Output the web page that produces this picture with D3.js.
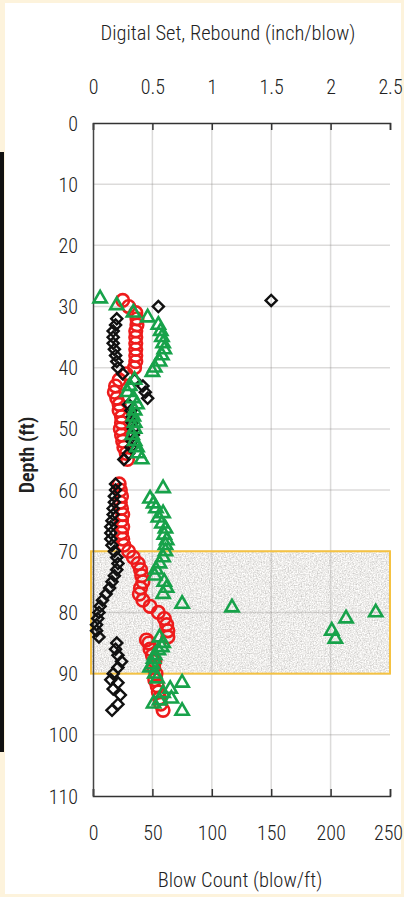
<!DOCTYPE html>
<html><head><meta charset="utf-8">
<script src="https://cdn.jsdelivr.net/npm/d3@7"></script>
<style>
html,body{margin:0;padding:0;background:#fdf3dc;}
svg{display:block;}
text{font-family:"Liberation Sans Narrow","Arial Narrow","Roboto Condensed","Open Sans",sans-serif;fill:#222;}
</style></head><body>
<svg id="chart" width="404" height="897"></svg>
<script>
// ---- data ----
const depthTicks = [0,10,20,30,40,50,60,70,80,90,100,110];
const blowTicks = [0,50,100,150,200,250];
const setTicks = [0,0.5,1,1.5,2,2.5];

// Digital Set (inch/blow) - black diamonds, top axis
const setDepth = [29,30,32,33,34,35,36,37,38,39,40,41,42,43,44,45,46,47,48,49,50,51,52,53,54,55,59,60,61,62,63,64,65,66,67,68,69,70,71,72,73,74,75,76,77,78,79,80,81,82,83,84,85,86,87,88,89,90,91,91.5,92.5,93.5,95,96];
const setValue = [1.5,0.55,0.2,0.19,0.17,0.17,0.17,0.18,0.19,0.20,0.21,0.25,0.35,0.42,0.44,0.46,0.30,0.32,0.33,0.33,0.34,0.34,0.33,0.32,0.30,0.26,0.19,0.19,0.18,0.18,0.17,0.17,0.16,0.15,0.15,0.15,0.16,0.18,0.20,0.21,0.20,0.18,0.16,0.14,0.11,0.08,0.06,0.05,0.04,0.03,0.03,0.05,0.20,0.19,0.21,0.24,0.21,0.17,0.15,0.21,0.17,0.23,0.21,0.16];

// Rebound (inch/blow) - red circles, top axis
const rebDepth = [29,30,31,32,33,34,35,36,37,38,39,40,41,42,43,44,45,46,47,48,49,50,51,52,53,54,55,59,60,61,62,63,64,65,66,67,68,69,70,71,72,73,74,75,76,77,78,79,80,81,82,83,84,84.5,85,86,87,88,89,90,91,92,93,94,95,96];
const rebValue = [0.25,0.30,0.36,0.37,0.37,0.36,0.36,0.36,0.36,0.36,0.36,0.35,0.28,0.22,0.19,0.18,0.20,0.22,0.22,0.24,0.24,0.23,0.24,0.25,0.26,0.28,0.29,0.22,0.23,0.24,0.23,0.24,0.25,0.24,0.25,0.24,0.25,0.26,0.30,0.34,0.38,0.40,0.41,0.42,0.40,0.39,0.42,0.48,0.55,0.60,0.62,0.63,0.63,0.45,0.47,0.48,0.50,0.52,0.51,0.53,0.52,0.54,0.55,0.56,0.57,0.59];

// Blow Count (blow/ft) - green triangles, bottom axis
const blowDepth = [28.7,29.8,31,31.8,33,34,35,36,37,38,39,40,40.7,42,43,44,45,46,47,48,49,50,51,52,53,54,55,59.7,61.4,62.2,63,63.8,64.5,65.5,66.3,67.3,68.2,69,70,71,72,73,74,75,76,77,78.6,79.2,80,81,83,84.3,84.1,85,85.7,86.2,87,87.6,88.5,89,90,90.8,91.5,92.5,93.2,94.1,94.4,94.9,96.1];
const blowValue = [6,20,34,46,55,57,58,59,60,58,56,52,50,35,31,29,34,37,35,34,35,35,33,35,37,38,41,59,48,51,53,59,55,58,61,60,62,61,61,59,56,53,52,60,62,59,75,117,238,213,201,204,56,59,58,55,52,51,50,48,52,54,75,65,59,66,56,51,75];

// highlighted zone (ft)
const zone = [70, 90];

// ---- drawing ----
const svg = d3.select("#chart");
const L = 93, R = 390, T = 123, B = 796;
const y = d3.scaleLinear().domain([0,110]).range([T,B]);
const xb = d3.scaleLinear().domain([0,250]).range([L,R]);
const xt = d3.scaleLinear().domain([0,2.5]).range([L,R]);
const FONT = '"Liberation Sans Narrow","Arial Narrow","Roboto Condensed","Open Sans",sans-serif';

const defs = svg.append("defs");
const f = defs.append("filter").attr("id","noise").attr("x",0).attr("y",0).attr("width","100%").attr("height","100%");
f.append("feTurbulence").attr("type","fractalNoise").attr("baseFrequency",0.75).attr("numOctaves",2).attr("seed",4).attr("result","t");
f.append("feColorMatrix").attr("in","t").attr("type","matrix")
 .attr("values","0.75 0 0 0 0.47  0.75 0 0 0 0.46  0.75 0 0 0 0.445  0 0 0 0 1");

// white page
svg.append("rect").attr("x",5).attr("y",3).attr("width",396).attr("height",891).attr("fill","#fff");
// dark side bar
svg.append("rect").attr("x",0).attr("y",152).attr("width",4).attr("height",600).attr("fill","#111");

// zone fill
svg.append("rect").attr("x",xb(0)-2).attr("y",y(zone[0])).attr("width",xb(250)-xb(0)+2).attr("height",y(zone[1])-y(zone[0]))
  .attr("fill","#ddd9d5").attr("filter","url(#noise)");

// gridlines
const g = svg.append("g");
g.selectAll(".hg").data(depthTicks.filter(d=>d>0&&d<110)).join("line")
 .attr("x1",L).attr("x2",R).attr("y1",d=>y(d)).attr("y2",d=>y(d))
 .attr("stroke","#8a8886").attr("stroke-opacity",0.3).attr("stroke-width",1.5);
g.selectAll(".vg").data(blowTicks.filter(d=>d>0&&d<250)).join("line")
 .attr("x1",d=>xb(d)).attr("x2",d=>xb(d)).attr("y1",T).attr("y2",B)
 .attr("stroke","#8a8886").attr("stroke-opacity",0.3).attr("stroke-width",1.5);

// zone border
svg.append("rect").attr("x",xb(0)-2).attr("y",y(zone[0])).attr("width",xb(250)-xb(0)+2).attr("height",y(zone[1])-y(zone[0]))
  .attr("fill","none").attr("stroke","#f5c242").attr("stroke-width",2);

// axes
const topAxis = svg.append("g").attr("transform",`translate(0,${T})`)
  .call(d3.axisTop(xt).tickValues(setTicks).tickSize(-7).tickFormat(d=>d).tickPadding(0));
topAxis.select(".domain").attr("stroke","#333").attr("stroke-width",1.5);
topAxis.selectAll(".tick line").attr("stroke","#333").attr("stroke-width",1.5);
topAxis.selectAll(".tick text").attr("y",-36).attr("dy","0.35em").attr("font-size",20).attr("fill","#2a2a2a")
  .attr("font-weight",300).style("font-family",FONT);

const botAxis = svg.append("g").attr("transform",`translate(0,${B})`)
  .call(d3.axisBottom(xb).tickValues(blowTicks).tickSize(-7).tickFormat(d=>d));
botAxis.select(".domain").attr("stroke","#333").attr("stroke-width",1.5);
botAxis.selectAll(".tick line").attr("stroke","#333").attr("stroke-width",1.5);
botAxis.selectAll(".tick text").attr("y",37).attr("dy","0.35em").attr("font-size",20).attr("fill","#2a2a2a")
  .attr("font-weight",300).style("font-family",FONT);
botAxis.selectAll(".tick text").filter(d=>d===250).attr("dx",-2);

const leftAxis = svg.append("g").attr("transform",`translate(${L},0)`)
  .call(d3.axisLeft(y).tickValues(depthTicks).tickSize(0).tickFormat(d=>d));
leftAxis.select(".domain").attr("stroke","#444").attr("stroke-width",1.5);
leftAxis.selectAll(".tick text").attr("x",-15).attr("dy","0.35em").attr("font-size",20).attr("fill","#2a2a2a")
  .attr("font-weight",300).style("font-family",FONT);

// titles
svg.append("text").attr("x",228).attr("y",33).attr("dy","0.35em").attr("text-anchor","middle")
  .attr("font-size",20.5).attr("font-weight",300).text("Digital Set, Rebound (inch/blow)");
svg.append("text").attr("x",240).attr("y",880).attr("dy","0.35em").attr("text-anchor","middle")
  .attr("font-size",20.5).attr("font-weight",300).text("Blow Count (blow/ft)");
svg.append("text").attr("transform","translate(27,455) rotate(-90)").attr("dy","0.35em").attr("text-anchor","middle")
  .attr("font-size",20).attr("font-weight",600).attr("fill","#3a3a3a").text("Depth (ft)");

// markers
const setData = setDepth.map((d,i)=>({d, v:setValue[i]}));
const rebData = rebDepth.map((d,i)=>({d, v:rebValue[i]}));
const blowData = blowDepth.map((d,i)=>({d, v:blowValue[i]}));

const pts = svg.append("g");
pts.selectAll(".reb").data(rebData).join("circle")
  .attr("cx",p=>xt(p.v)).attr("cy",p=>y(p.d)).attr("r",6.3)
  .attr("fill","none").attr("stroke","#ee1c1c").attr("stroke-width",2.6);
pts.selectAll(".set").data(setData).join("path")
  .attr("d",d3.symbol().type(d3.symbolSquare).size(62))
  .attr("transform",p=>`translate(${xt(p.v)},${y(p.d)}) rotate(45)`)
  .attr("fill","none").attr("stroke","#111").attr("stroke-width",2.4);
pts.selectAll(".blow").data(blowData).join("path")
  .attr("d",d3.symbol().type(d3.symbolTriangle).size(76))
  .attr("transform",p=>`translate(${xb(p.v)},${y(p.d)})`)
  .attr("fill","none").attr("stroke","#17a24a").attr("stroke-width",2.6);
</script>
</body></html>
